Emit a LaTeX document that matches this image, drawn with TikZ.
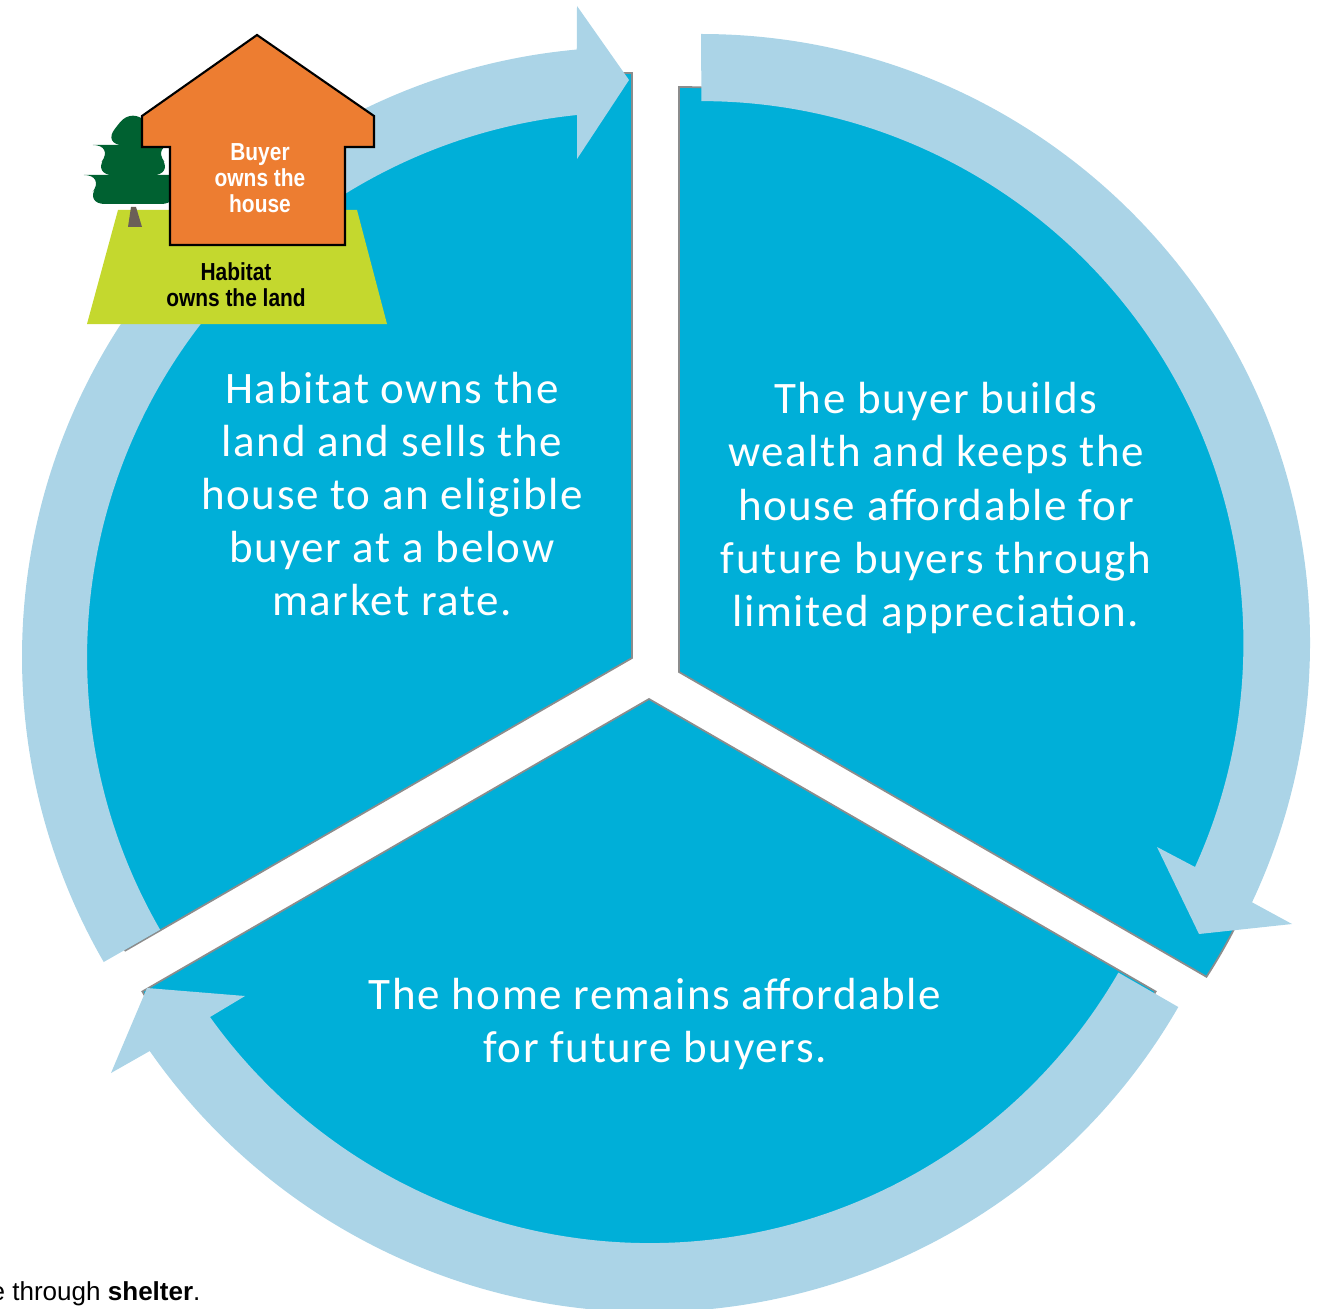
\documentclass[tikz,border=0pt]{standalone}
\usepackage{fontspec}
\usepackage{tikz}
\setmainfont[LetterSpace=3.5]{Carlito}
\newfontfamily\nhan{Liberation Sans}
\newfontfamily\nhanhep[FakeStretch=0.85]{Liberation Sans}
\definecolor{xanhdam}{HTML}{00AFD8}
\definecolor{xanhnhat}{HTML}{ABD4E7}
\definecolor{vien}{HTML}{8C8C8C}
\definecolor{cam}{HTML}{ED7D31}
\definecolor{co}{HTML}{C4D82E}
\definecolor{thong}{HTML}{006131}
\definecolor{than}{HTML}{6B5F57}

\begin{document}
\begin{tikzpicture}[x=0.01cm,y=0.01cm,
  quat/.style={fill=xanhdam,draw=vien,line width=0.5pt}, % hình quạt
  vong/.style={fill=xanhnhat}, % mũi tên cong
  chu/.style={text=white,align=center,font=\fontsize{12.8}{15.1}\selectfont},
  nho/.style={align=center,inner sep=0pt,font=\nhanhep\bfseries\fontsize{7}{7.4}\selectfont}]
\useasboundingbox (0,0) rectangle (1322,1308);
% ba hình quạt
\draw[quat] (632,650) -- ++(90:585) arc[start angle=90,end angle=210,radius=585] -- cycle;
\draw[quat] (679,636) -- ++(0,585) arc[start angle=90,end angle=-31.4,x radius=618,y radius=585] -- cycle;
\draw[quat] (649,609) -- ++(210:585) arc[start angle=210,end angle=330,radius=585] -- cycle;
% ba mũi tên
\fill[vong] (632,651) ++(210:610) arc[start angle=210,end angle=95.2,radius=610]
  -- (577,1302) -- (629,1228) -- (577,1149) -- (577,1193)
  arc[start angle=95.8,end angle=210,radius=545] -- cycle;
\fill[vong] (701,665) ++(90:609) arc[start angle=90,end angle=-25.2,radius=609]
  -- (1292,384) -- (1199,374) -- (1157,461) -- (1195,441)
  arc[start angle=-24.4,end angle=90,radius=542] -- cycle;
\fill[vong] (650,606) ++(-30:610) arc[start angle=-30,end angle=-145.1,radius=610]
  -- (111,235) -- (147,320) -- (245,312) -- (210,291)
  arc[start angle=-144.4,end angle=-30,radius=541] -- cycle;
% chữ trong quạt
\node[chu] (trai) at (392,814) {Habitat owns the\\land and sells the\\house to an eligible\\buyer at a below\\market rate.};
\node[chu] (phai) at (936,800) {The buyer builds\\wealth and keeps the\\house affordable for\\future buyers through\\limited appreciation.};
\node[chu] (duoi) at (655,284) {The home remains affordable\\for future buyers.};
% đất, cây, nhà
\fill[co] (118,1098) -- (357,1098) -- (387,984) -- (87,984) -- cycle;
\fill[than] (131,1101) -- (136,1101) -- (142,1081) -- (128,1081) -- cycle;
\fill[thong,rounded corners=6] (133,1202) -- (102,1163) -- (114,1163) -- (92,1133) -- (105,1133)
  -- (84,1104) -- (182,1104) -- (161,1133) -- (174,1133) -- (152,1163) -- (164,1163) -- cycle;
\draw[fill=cam,line width=0.6pt] (257,1273) -- (374,1192) -- (374,1161) -- (345,1161) -- (345,1063)
  -- (170,1063) -- (170,1161) -- (142,1161) -- (142,1192) -- cycle;
\node[nho,text=white] (nha) at (260,1130) {Buyer\\owns the\\house};
\node[nho] (dat) at (236,1023) {Habitat\\owns the land};
% dòng chữ dưới
\node[anchor=base west,inner sep=0pt,font=\nhan\fontsize{7.4}{9}\selectfont] (chan) at (-10,8) {e through \textbf{shelter}.};
\end{tikzpicture}
\end{document}
